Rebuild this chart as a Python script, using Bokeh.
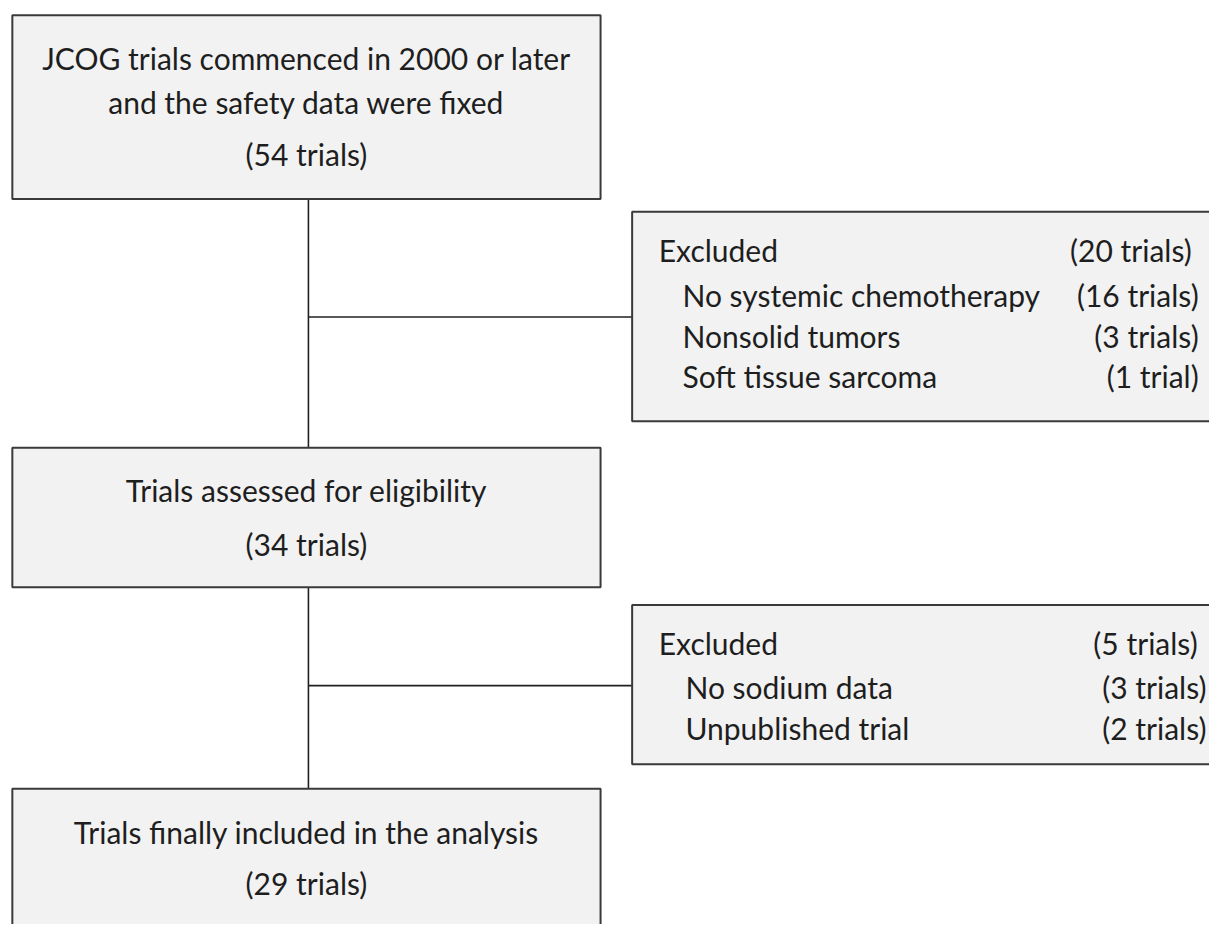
from bokeh.plotting import figure
from bokeh.models import Range1d
from bokeh.core.properties import value
from bokeh.embed import file_html
from bokeh.resources import INLINE

# ---- content ----
main_lines = [
    ["JCOG trials commenced in 2000 or later", "and the safety data were fixed", "(54 trials)"],
    ["Trials assessed for eligibility", "(34 trials)"],
    ["Trials finally included in the analysis", "(29 trials)"],
]
excl1_labels = ["Excluded", "No systemic chemotherapy", "Nonsolid tumors", "Soft tissue sarcoma"]
excl1_counts = ["(20 trials)", "(16 trials)", "(3 trials)", "(1 trial)"]
excl2_labels = ["Excluded", "No sodium data", "Unpublished trial"]
excl2_counts = ["(5 trials)", "(3 trials)", "(2 trials)"]

# ---- layout (reference pixel units) ----
main_left, main_right = 12, 608
main_top = [15, 455, 802]
main_bottom = [202, 597, 960]
main_line_y = [[59, 103, 156], [498, 553], [846, 898]]
side_left, side_right = 640, 1245
side_top = [215, 615]
side_bottom = [428, 777]
side_line_y = [[254, 300, 341, 382], [654, 698, 740]]
side_label_x = [[667, 691, 691, 691], [667, 694, 694]]
side_count_x = [[1207, 1214, 1214, 1214], [1213, 1222, 1222]]
spine_x = 312
branch_y = [322, 697]

FONT = "Lato"
FS = "30px"
TXT = "#1e1e1e"

p = figure(width=1209, height=924, output_backend="svg", toolbar_location=None,
           x_range=Range1d(0, 1225), y_range=Range1d(940, 0), min_border=0)
p.axis.visible = False
p.grid.visible = False
p.outline_line_color = None
p.background_fill_color = "white"
p.border_fill_color = "white"

# connector lines
p.segment(x0=[spine_x, spine_x], y0=[main_bottom[0], main_bottom[1]],
          x1=[spine_x, spine_x], y1=[main_top[1], main_top[2]],
          line_color="#202020", line_width=1.6)
p.segment(x0=[spine_x, spine_x], y0=branch_y, x1=[side_left, side_left], y1=branch_y,
          line_color="#202020", line_width=1.6)

# boxes
p.quad(left=[main_left] * 3, right=[main_right] * 3, top=main_top, bottom=main_bottom,
       fill_color="#f2f2f2", line_color="#3a3a3a", line_width=2)
p.quad(left=[side_left] * 2, right=[side_right] * 2, top=side_top, bottom=side_bottom,
       fill_color="#f2f2f2", line_color="#3a3a3a", line_width=2)

# main box texts
mx, my, mt = [], [], []
for lines, ys in zip(main_lines, main_line_y):
    for t, y in zip(lines, ys):
        mx.append((main_left + main_right) / 2)
        my.append(y)
        mt.append(t)
p.text(x=mx, y=my, text=mt, text_align="center", text_baseline="middle",
       text_font=value(FONT), text_font_size=FS, text_color=TXT)

# side box texts
lx, ly, lt, rx, ry, rt = [], [], [], [], [], []
for labels, counts, ys, lxs, rxs in [
        (excl1_labels, excl1_counts, side_line_y[0], side_label_x[0], side_count_x[0]),
        (excl2_labels, excl2_counts, side_line_y[1], side_label_x[1], side_count_x[1])]:
    for lab, cnt, y, xl, xr in zip(labels, counts, ys, lxs, rxs):
        lx.append(xl); ly.append(y); lt.append(lab)
        rx.append(xr); ry.append(y); rt.append(cnt)
p.text(x=lx, y=ly, text=lt, text_align="left", text_baseline="middle",
       text_font=value(FONT), text_font_size=FS, text_color=TXT)
p.text(x=rx, y=ry, text=rt, text_align="right", text_baseline="middle",
       text_font=value(FONT), text_font_size=FS, text_color=TXT)

open("out.html", "w").write(file_html(p, INLINE))
